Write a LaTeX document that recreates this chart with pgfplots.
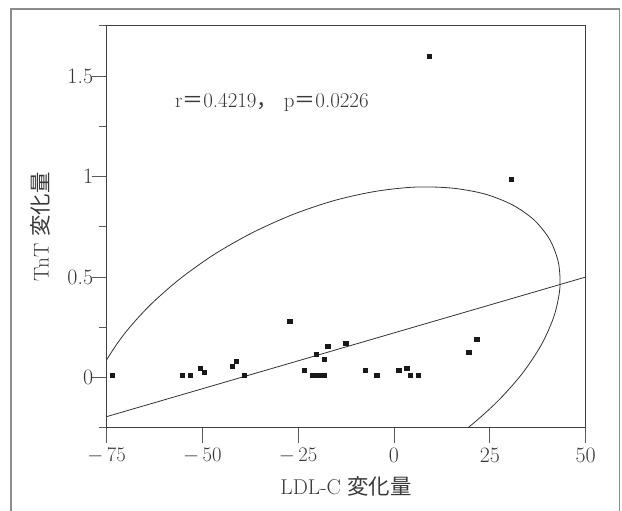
\documentclass[border=0pt]{standalone}
\usepackage{fontspec}
\newfontfamily\cjk{Noto Sans CJK JP}
\usepackage{pgfplots}
\pgfplotsset{compat=1.18}
\begin{document}
\begin{tikzpicture}[x=1bp,y=1bp]
\path[use as bounding box] (0,0) rectangle (622,511);
% outer frame (open at the bottom, cropped)
\draw[black!45, line width=1.6bp] (11,-10) -- (11,501.7) -- (619.6,501.7) -- (619.6,-10);
\begin{axis}[
  at={(106.6bp,83.3bp)}, anchor=south west,
  scale only axis, width=479bp, height=401.7bp,
  xmin=-75, xmax=50, ymin=-0.25, ymax=1.75,
  xtick={-75,-50,-25,0,25,50},
  xticklabels={$-\,75$,$-\,50$,$-\,25$,0,25,50},
  ytick={0,0.5,1,1.5},
  yticklabels={0,0.5,1,1.5},
  minor ytick={-0.25,0.25,0.75,1.25,1.75},
  tick align=outside, xtick pos=bottom, ytick pos=left,
  major tick length=15bp, minor tick length=7.5bp,
  axis line style={black!75, line width=1bp},
  tick style={black!65, line width=1bp},
  tick label style={font=\fontsize{22}{26}\selectfont, black!78},
  xticklabel style={anchor=north, yshift=-2bp},
  yticklabel style={anchor=east, xshift=5bp},
  label style={font=\fontsize{21.5}{26}\selectfont, black!78},
  xlabel={LDL-C {\cjk 変化量}},
  ylabel={TnT {\cjk 変化量}},
  xlabel style={at={(axis description cs:0.5,-0.147)}, anchor=center},
  ylabel style={at={(axis description cs:-0.1378,0.5)}, anchor=center},
  clip=true,
]
% regression line
\addplot[black!80, line width=0.8bp] coordinates {(-75,-0.195) (50,0.5)};
% density ellipse
\addplot[black!80, line width=0.8bp, smooth] coordinates {
  (-60.671,-0.680) (-67.905,-0.627) (-73.638,-0.550) (-77.697,-0.454)
  (-79.958,-0.340) (-80.354,-0.212) (-78.871,-0.074) (-75.553,0.069)
  (-70.505,0.214) (-63.877,0.356) (-55.871,0.491) (-46.731,0.615)
  (-36.735,0.723) (-26.184,0.813) (-15.402,0.882) (-4.715,0.927)
  (5.552,0.948) (15.087,0.943) (23.601,0.914) (30.835,0.860)
  (36.568,0.784) (40.627,0.687) (42.888,0.573) (43.284,0.446)
  (41.801,0.308) (38.483,0.164) (33.435,0.019) (26.807,-0.123)
  (18.801,-0.258) (9.661,-0.381) (-0.335,-0.489) (-10.886,-0.579)
  (-21.668,-0.648) (-32.355,-0.693) (-42.622,-0.714) (-52.157,-0.710)
  (-60.671,-0.680)
};
% data points
\addplot[only marks, mark=square*, mark size=2.1bp, black!90] coordinates {
  (-73.5,0.01) (-55.3,0.01) (-53.2,0.01) (-50.6,0.045) (-49.6,0.025)
  (-42.3,0.055) (-41.2,0.08) (-39.1,0.01) (-27.2,0.28) (-23.5,0.035)
  (-21.3,0.01) (-20.3,0.01) (-19.3,0.01) (-18.3,0.01) (-20.4,0.115)
  (-18.3,0.09) (-17.3,0.155) (-12.6,0.17) (-7.6,0.035) (-4.5,0.01)
  (1.2,0.035) (3.3,0.045) (4.3,0.01) (6.4,0.01) (19.5,0.125)
  (21.6,0.19) (30.5,0.987) (9.1,1.6)
};
\node[anchor=west, font=\fontsize{21}{25}\selectfont, black!78, inner sep=0pt]
  at (axis cs:-57.2,1.368) {r{\cjk ＝}0.4219{\cjk ，}\ p{\cjk ＝}0.0226};
\end{axis}
\end{tikzpicture}
\end{document}
